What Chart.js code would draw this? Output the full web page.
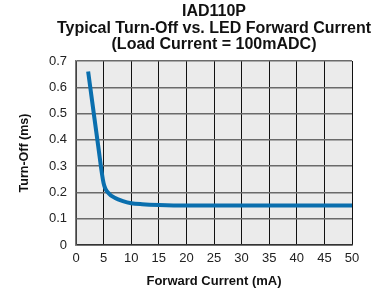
<!DOCTYPE html>
<html>
<head>
<meta charset="utf-8">
<script src="https://cdn.jsdelivr.net/npm/chart.js@4"></script>
<style>
  html, body { margin: 0; padding: 0; background: #fff; }
  #wrap { width: 383px; height: 293px; }
</style>
</head>
<body>
<div id="wrap"><canvas id="chartTurnOff"></canvas></div>
<script>
// Turn-off vs. LED forward current
const forwardCurrent = [2.2, 3, 4, 5, 6, 7, 8.5, 10, 12, 15, 20, 25, 30, 35, 40, 45, 50];
const turnOff = [0.66, 0.535, 0.38, 0.235, 0.195, 0.18, 0.167, 0.159, 0.155, 0.152, 0.15, 0.15, 0.15, 0.15, 0.15, 0.15, 0.15];
const titleLines = ["IAD110P", "Typical Turn-Off vs. LED Forward Current", "(Load Current = 100mADC)"];

const FONT = "'Liberation Sans', Arial, sans-serif";

// fundo cinza da área do gráfico
const plotBg = {
  id: "plotBg",
  beforeDraw(chart) {
    const { ctx, chartArea: a } = chart;
    ctx.save();
    ctx.fillStyle = "#ebebeb";
    ctx.fillRect(a.left, a.top, a.right - a.left, a.bottom - a.top);
    ctx.restore();
  },
};

// título centrado sobre a área do gráfico
const plotTitle = {
  id: "plotTitle",
  afterDraw(chart) {
    const { ctx, chartArea: a } = chart;
    const cx = (a.left + a.right) / 2;
    ctx.save();
    ctx.fillStyle = "#111";
    ctx.font = "bold 16px " + FONT;
    ctx.textAlign = "center";
    ctx.textBaseline = "middle";
    titleLines.forEach((t, i) => ctx.fillText(t, cx, 12 + i * 16.5));
    ctx.restore();
  },
};

const el = document.getElementById("chartTurnOff");

new Chart(el, {
  type: "line",
  data: {
    datasets: [
      {
        label: "Turn-Off (ms)",
        data: forwardCurrent.map((x, i) => ({ x: x, y: turnOff[i] })),
        borderColor: "#0a6fae",
        borderWidth: 4,
        cubicInterpolationMode: "monotone",
        pointRadius: 0,
        fill: false,
      },
    ],
  },
  options: {
    responsive: true,
    maintainAspectRatio: false,
    animation: false,
    layout: { padding: { left: 0, right: 31, top: 61, bottom: 0 } },
    plugins: {
      legend: { display: false },
      tooltip: { enabled: false },
      title: { display: false },
    },
    scales: {
      x: {
        type: "linear",
        min: 0,
        max: 50,
        afterFit(s) {
          s.height = 48;
        },
        ticks: {
          stepSize: 5,
          color: "#222",
          padding: 6,
          maxRotation: 0,
          font: { family: FONT, size: 13 },
        },
        grid: { color: "#111", lineWidth: 1, drawTicks: false },
        border: { color: "#333", width: 1.5 },
        title: {
          display: true,
          text: "Forward Current (mA)",
          color: "#111",
          font: { family: FONT, size: 13, weight: "bold" },
          padding: { top: 0, bottom: 4 },
        },
      },
      y: {
        min: 0,
        max: 0.7,
        afterFit(s) {
          s.width = 76;
        },
        ticks: {
          stepSize: 0.1,
          color: "#222",
          padding: 9,
          font: { family: FONT, size: 13 },
        },
        grid: { color: "#6a6a6a", lineWidth: 1.5, drawTicks: false },
        border: { color: "#777", width: 1.5 },
        title: {
          display: true,
          text: "Turn-Off (ms)",
          color: "#111",
          font: { family: FONT, size: 12.5, weight: "bold" },
          padding: { top: 17, bottom: 0 },
        },
      },
    },
  },
  plugins: [plotBg, plotTitle],
});
</script>
</body>
</html>
